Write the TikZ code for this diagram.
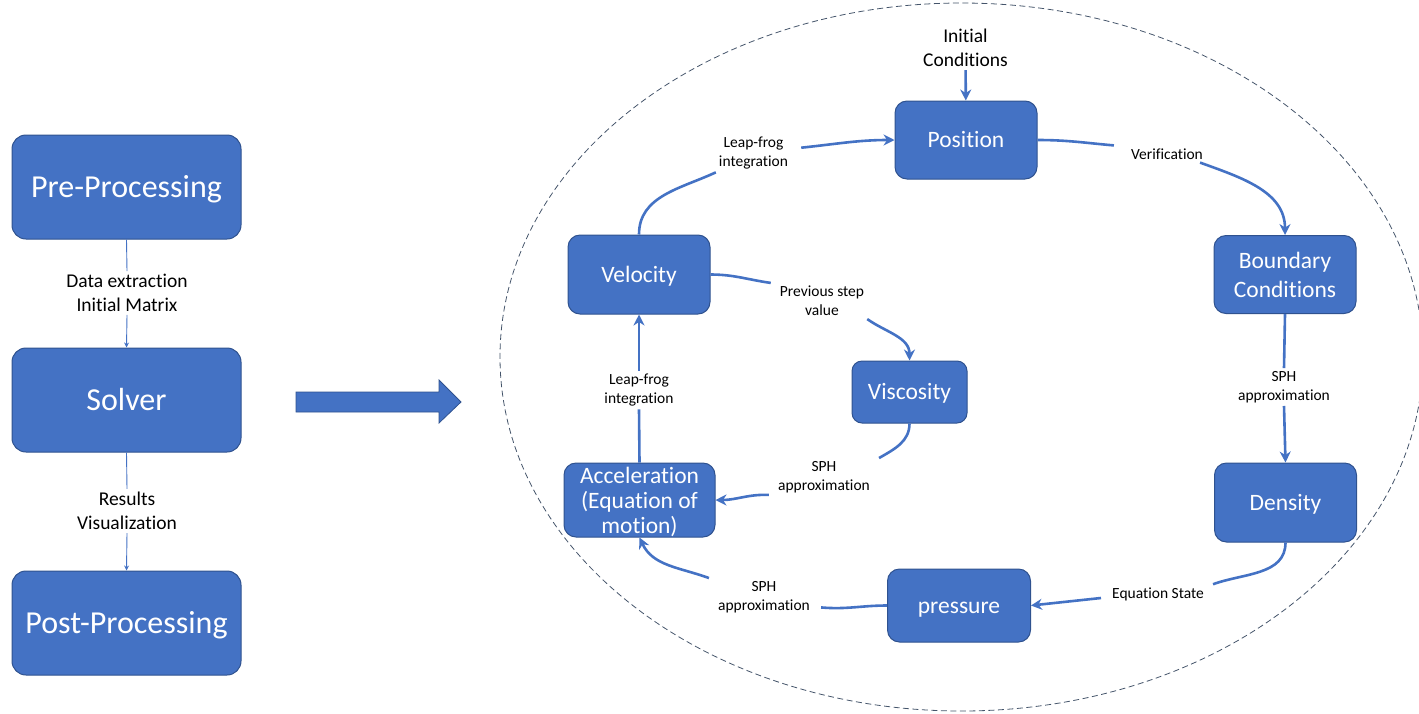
\documentclass[tikz,border=0pt]{standalone}
\usepackage{fontspec}
\setmainfont{Carlito}[Ligatures=NoCommon]
\usetikzlibrary{arrows.meta}
\definecolor{boxblue}{HTML}{4472C4}
\definecolor{boxline}{HTML}{2F528F}
\definecolor{ringgray}{HTML}{44546A}
\tikzset{
   bigbox/.style={draw=boxline, fill=boxblue, line width=1pt, rounded corners=14pt,
      minimum width=229pt, minimum height=104pt, text=white,
      text height=20.5pt, text depth=0pt,
      font=\fontsize{32}{38}\selectfont},
   stepbox/.style={draw=boxline, fill=boxblue, line width=1pt, rounded corners=12pt,
      minimum width=142pt, minimum height=78pt, text=white, align=center,
      font=\fontsize{23.5}{29}\selectfont},
   onebox/.style={stepbox, text height=15pt, text depth=0pt},
   note/.style={align=center, inner sep=3pt, font=\fontsize{15.5}{19}\selectfont},
   bignote/.style={align=center, inner sep=3pt, font=\fontsize{19.5}{24}\selectfont},
   loopline/.style={draw=boxblue, line width=2.6pt},
   loopflow/.style={loopline, -{Stealth[length=11pt,width=11pt]}},
   feedline/.style={draw=boxblue, line width=0.9pt},
   feedflow/.style={feedline, -{Stealth[length=5pt,width=5pt]}}
}
\begin{document}
\begin{tikzpicture}[x=1pt,y=1pt]
   \useasboundingbox (0,0) rectangle (1419,-713);
   \draw[ringgray, line width=0.8pt, dash pattern=on 6pt off 3.5pt]
   (961.5,-357) ellipse [x radius=461.5, y radius=354];

   % left column
   \node[bigbox] (pre) at (126.5,-187) {Pre-Processing};
   \node[bigbox] (solver) at (126.5,-400) {Solver};
   \node[bigbox] (post) at (126.5,-623) {Post-Processing};
   \node[bignote] (extract) at (127,-293) {Data extraction\\Initial Matrix};
   \node[bignote] (results) at (127,-511) {Results\\Visualization};
   \draw[feedline] (pre.south) -- (extract.north);
   \draw[feedflow] (extract.south) -- (solver.north);
   \draw[feedline] (solver.south) -- (results.north);
   \draw[feedflow] (results.south) -- (post.north);

   \filldraw[fill=boxblue, draw=boxline, line width=0.8pt]
   (296,-392) -- (439,-392) -- (439,-380) -- (461,-402) --
   (439,-423) -- (439,-412) -- (296,-412) -- cycle;

   % solver loop
   \node[onebox] (pos) at (966,-140) {Position};
   \node[stepbox] (bc) at (1285,-274.5) {Boundary\\Conditions};
   \node[onebox, minimum height=79pt] (dens) at (1285.5,-502.5) {Density};
   \node[onebox, minimum width=143pt, minimum height=73pt] (pres) at (959,-605.5) {pressure};
   \node[stepbox, minimum width=151pt, minimum height=74pt, inner sep=0pt, text depth=0pt,
      font=\fontsize{23.5}{25}\selectfont] (acc) at (639.5,-500) {Acceleration\\(Equation of\\motion)};
   \node[onebox, minimum width=115pt, minimum height=62pt, rounded corners=10pt] (visc) at (909.5,-392) {Viscosity};
   \node[onebox, minimum height=79pt] (vel) at (639,-274.5) {Velocity};

   \node[bignote] (init) at (965.5,-48) {Initial\\Conditions};
   \node[note] (lfA) at (753.5,-153) {Leap-frog\\integration};
   \node[note] (verif) at (1167,-154) {Verification};
   \node[note] (prev) at (822,-301) {Previous step\\value};
   \node[note] (sphA) at (1284,-387) {SPH\\approximation};
   \node[note] (lfB) at (639,-390) {Leap-frog\\integration};
   \node[note] (sphB) at (824,-477) {SPH\\approximation};
   \node[note] (sphC) at (764,-597) {SPH\\approximation};
   \node[note] (eqst) at (1158,-594) {Equation State};

   \draw[loopflow] (init) -- (pos);
   \draw[loopline] (vel.north) to[out=90,in=205] (lfA.south west);
   \draw[loopflow] ([xshift=10pt]lfA.8) to[out=6,in=180] (pos.west);
   \draw[loopline] (pos.east) to[out=0,in=175] ([xshift=-14pt]verif.north west);
   \draw[loopflow] ([xshift=-6pt]verif.south east) to[out=-20,in=90] (bc.north);
   \draw[loopline] (bc.south) -- (sphA.north);
   \draw[loopflow] (sphA.south) -- (dens.north);
   \draw[loopline] (dens.south) to[out=-90,in=20] ([xshift=6pt]eqst.north east);
   \draw[loopflow] ([shift={(-8pt,-4pt)}]eqst.west) -- (pres.east);
   \draw[loopline] (pres.west) to[out=180,in=-5] ([xshift=8pt]sphC.-12);
   \draw[loopflow] ([xshift=-6pt]sphC.north west) to[out=160,in=-65] (acc.south);
   \draw[loopline] (visc.south) to[out=-90,in=30] ([xshift=6pt]sphB.north east);
   \draw[loopflow] ([xshift=-6pt]sphB.200) to[out=178,in=0] (acc.east);
   \draw[loopline] (acc.north) -- (lfB.south);
   \draw[loopflow] (lfB.north) -- (vel.south);
   \draw[loopline] (vel.east) to[out=0,in=172] ([xshift=-6pt]prev.north west);
   \draw[loopflow] (prev.south east) to[out=-35,in=90] (visc.north);
\end{tikzpicture}
\end{document}
